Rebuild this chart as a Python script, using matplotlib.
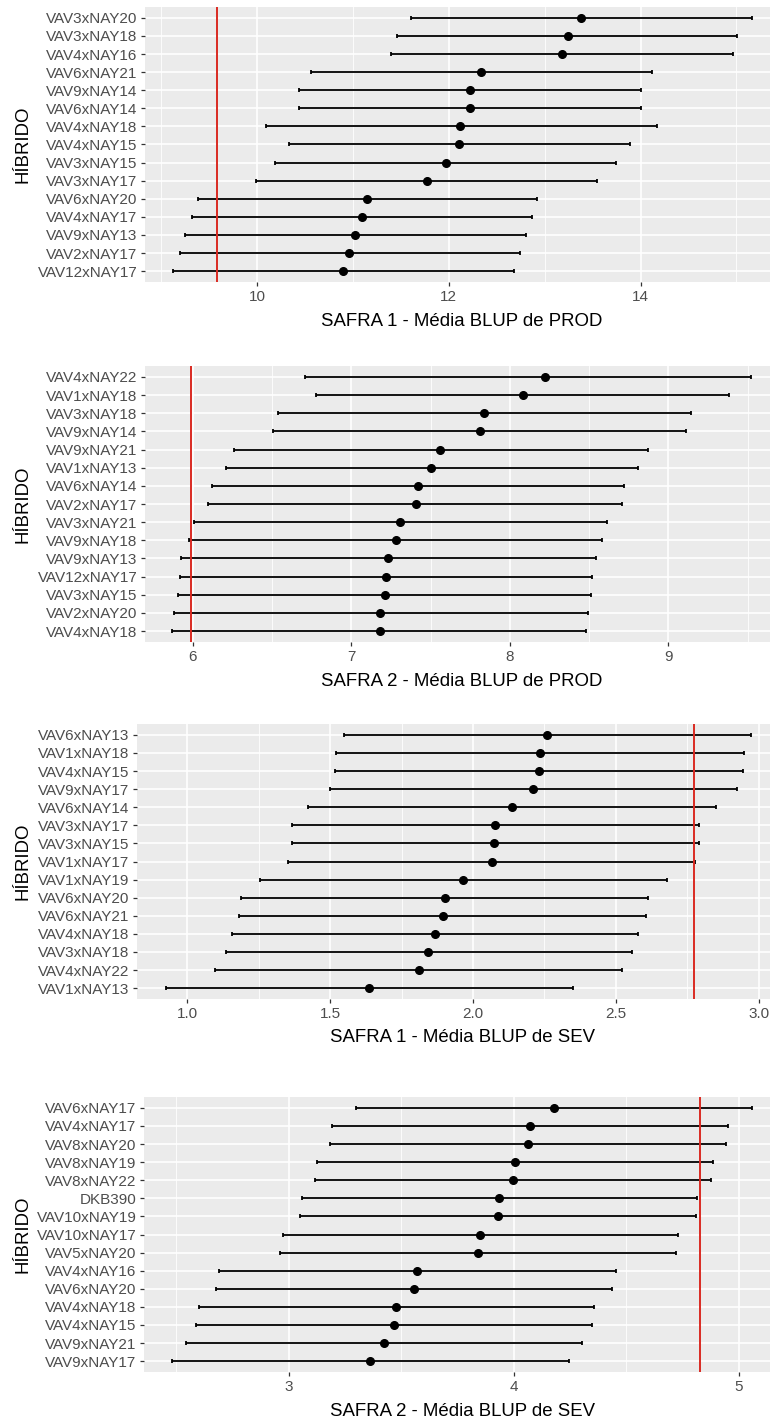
import matplotlib
matplotlib.use('Agg')
import matplotlib.pyplot as plt
from matplotlib.ticker import FixedLocator, FormatStrFormatter
import numpy as np

plt.rcParams['font.family'] = ['Liberation Sans', 'DejaVu Sans']

# SAFRA 1 - PROD
s1p_hib = ['VAV3xNAY20', 'VAV3xNAY18', 'VAV4xNAY16', 'VAV6xNAY21', 'VAV9xNAY14',
           'VAV6xNAY14', 'VAV4xNAY18', 'VAV4xNAY15', 'VAV3xNAY15', 'VAV3xNAY17',
           'VAV6xNAY20', 'VAV4xNAY17', 'VAV9xNAY13', 'VAV2xNAY17', 'VAV12xNAY17']
s1p_media = [13.38, 13.24, 13.18, 12.34, 12.22, 12.22, 12.12, 12.11, 11.97, 11.77,
             11.15, 11.09, 11.02, 10.96, 10.90]
s1p_inf = [11.60, 11.46, 11.40, 10.56, 10.44, 10.44, 10.09, 10.33, 10.19, 9.99,
           9.38, 9.32, 9.25, 9.19, 9.12]
s1p_sup = [15.16, 15.01, 14.96, 14.12, 14.00, 14.00, 14.17, 13.89, 13.74, 13.55,
           12.92, 12.87, 12.80, 12.74, 12.68]
s1p_ref = 9.58

# SAFRA 2 - PROD
s2p_hib = ['VAV4xNAY22', 'VAV1xNAY18', 'VAV3xNAY18', 'VAV9xNAY14', 'VAV9xNAY21',
           'VAV1xNAY13', 'VAV6xNAY14', 'VAV2xNAY17', 'VAV3xNAY21', 'VAV9xNAY18',
           'VAV9xNAY13', 'VAV12xNAY17', 'VAV3xNAY15', 'VAV2xNAY20', 'VAV4xNAY18']
s2p_media = [8.22, 8.08, 7.84, 7.81, 7.56, 7.50, 7.42, 7.41, 7.31, 7.28,
             7.235, 7.22, 7.21, 7.18, 7.18]
s2p_inf = [6.71, 6.78, 6.54, 6.51, 6.26, 6.21, 6.12, 6.10, 6.01, 5.98,
           5.93, 5.92, 5.91, 5.88, 5.87]
s2p_sup = [9.52, 9.38, 9.14, 9.11, 8.87, 8.81, 8.72, 8.71, 8.61, 8.58,
           8.54, 8.52, 8.51, 8.49, 8.48]
s2p_ref = 5.99

# SAFRA 1 - SEV
s1s_hib = ['VAV6xNAY13', 'VAV1xNAY18', 'VAV4xNAY15', 'VAV9xNAY17', 'VAV6xNAY14',
           'VAV3xNAY17', 'VAV3xNAY15', 'VAV1xNAY17', 'VAV1xNAY19', 'VAV6xNAY20',
           'VAV6xNAY21', 'VAV4xNAY18', 'VAV3xNAY18', 'VAV4xNAY22', 'VAV1xNAY13']
s1s_media = [2.260, 2.235, 2.232, 2.211, 2.137, 2.079, 2.075, 2.066, 1.966, 1.901,
             1.894, 1.867, 1.844, 1.810, 1.637]
s1s_inf = [1.547, 1.520, 1.517, 1.498, 1.424, 1.366, 1.366, 1.352, 1.253, 1.188,
           1.182, 1.155, 1.134, 1.097, 0.926]
s1s_sup = [2.974, 2.950, 2.945, 2.925, 2.852, 2.793, 2.790, 2.777, 2.680, 2.614,
           2.607, 2.579, 2.557, 2.523, 2.352]
s1s_ref = 2.773

# SAFRA 2 - SEV
s2s_hib = ['VAV6xNAY17', 'VAV4xNAY17', 'VAV8xNAY20', 'VAV8xNAY19', 'VAV8xNAY22',
           'DKB390', 'VAV10xNAY19', 'VAV10xNAY17', 'VAV5xNAY20', 'VAV4xNAY16',
           'VAV6xNAY20', 'VAV4xNAY18', 'VAV4xNAY15', 'VAV9xNAY21', 'VAV9xNAY17']
s2s_media = [4.178, 4.073, 4.065, 4.006, 3.997, 3.937, 3.932, 3.851, 3.842, 3.571,
             3.555, 3.478, 3.466, 3.424, 3.362]
s2s_inf = [3.300, 3.190, 3.185, 3.127, 3.116, 3.058, 3.050, 2.973, 2.960, 2.691,
           2.678, 2.600, 2.586, 2.542, 2.482]
s2s_sup = [5.060, 4.954, 4.946, 4.887, 4.877, 4.817, 4.813, 4.733, 4.724, 4.454,
           4.438, 4.359, 4.349, 4.305, 4.244]
s2s_ref = 4.83

W, H = 772, 1418
fig = plt.figure(figsize=(W / 100, H / 100), dpi=100)


def painel(box, hib, media, inf, sup, ref, xlim, major, minor, titulo, fmt='%d'):
    l, r, t, b = box
    ax = fig.add_axes([l / W, 1 - b / H, (r - l) / W, (b - t) / H])
    ax.set_facecolor('#EBEBEB')
    for s in ax.spines.values():
        s.set_visible(False)

    n = len(hib)
    y = np.arange(n, 0, -1)
    media = np.array(media)
    err = [media - np.array(inf), np.array(sup) - media]

    ax.errorbar(media, y, xerr=err, fmt='none', ecolor='black', elinewidth=1.3,
                capsize=1.5, capthick=1.3, zorder=3)
    ax.plot(media, y, 'o', color='black', ms=5.5, zorder=5)
    ax.axvline(ref, color='#DA2A22', lw=1.4, zorder=4)

    ax.set_xlim(*xlim)
    ax.set_ylim(0.4, n + 0.6)
    ax.set_yticks(y)
    ax.set_yticklabels(hib)
    ax.xaxis.set_major_locator(FixedLocator(major))
    ax.xaxis.set_minor_locator(FixedLocator(minor))
    ax.xaxis.set_major_formatter(FormatStrFormatter(fmt))

    ax.grid(which='major', color='white', lw=1.2, zorder=0)
    ax.grid(which='minor', axis='x', color='white', lw=0.6, zorder=0)
    ax.set_axisbelow(True)

    ax.tick_params(which='major', length=3, width=0.9, color='#333333',
                   labelcolor='#4D4D4D', labelsize=11, pad=2.5)
    ax.tick_params(which='minor', length=0)

    # titulos dos eixos
    fig.text(462 / W, 1 - (b + 43.5) / H, titulo, fontsize=13.4,
             ha='center', va='baseline')
    fig.text(23 / W, 1 - (t + b) / 2 / H, 'HÍBRIDO', rotation=90, fontsize=13.4,
             ha='center', va='center')
    return ax


painel((145, 770, 7, 282), s1p_hib, s1p_media, s1p_inf, s1p_sup, s1p_ref,
       (8.83, 15.35), [10, 12, 14], [9, 11, 13, 15],
       'SAFRA 1 - Média BLUP de PROD')
painel((145, 770, 366, 642), s2p_hib, s2p_media, s2p_inf, s2p_sup, s2p_ref,
       (5.70, 9.64), [6, 7, 8, 9], [6.5, 7.5, 8.5, 9.5],
       'SAFRA 2 - Média BLUP de PROD')
painel((137, 770, 724, 999), s1s_hib, s1s_media, s1s_inf, s1s_sup, s1s_ref,
       (0.824, 3.04), [1.0, 1.5, 2.0, 2.5, 3.0], [1.25, 1.75, 2.25, 2.75],
       'SAFRA 1 - Média BLUP de SEV', fmt='%.1f')
painel((144, 770, 1097, 1372), s2s_hib, s2s_media, s2s_inf, s2s_sup, s2s_ref,
       (2.356, 5.14), [3, 4, 5], [2.5, 3.5, 4.5],
       'SAFRA 2 - Média BLUP de SEV')

fig.savefig('out.png', dpi=100, facecolor='white')
